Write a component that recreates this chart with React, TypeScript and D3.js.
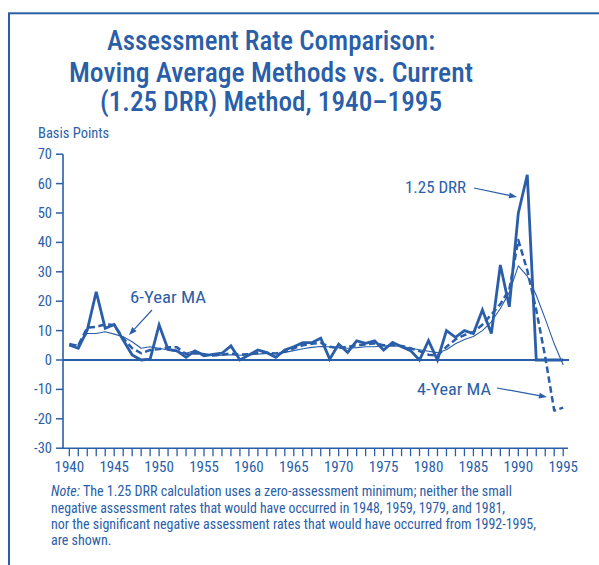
import React from "react";
import * as d3 from "d3";

const years: number[] = d3.range(1940, 1996);

const drr: number[] = [
  5.1, 4, 10.2, 23.2, 10.8, 12.1, 6.8, 1.7, 0, 0.3,
  11.9, 3.6, 3.1, 0.9, 3.1, 1.4, 1.9, 2.3, 4.8, 0,
  1.7, 3.4, 2.5, 0.9, 3.4, 4.5, 5.9, 5.9, 7.4, 0.3,
  5.4, 2.6, 6.5, 5.7, 6.5, 3.4, 6, 4.5, 3.2, 0,
  6.6, 0, 10, 7.7, 10, 9, 17, 9, 32.3, 18.1,
  49.9, 63, 0, 0, 0, 0,
];

const ma4: number[] = [
  5, 5, 11, 11.3, 12.1, 11.9, 7.4, 4, 2.3, 3.4,
  3.7, 4.3, 4.3, 2, 2.3, 2, 1.5, 1.8, 2.2, 1.8,
  2, 2.5, 2.5, 2.2, 2.8, 4, 5, 5.5, 5.8, 4.5,
  4, 4.5, 5, 5.3, 5.7, 5, 5, 4.8, 4, 3,
  1.8, 1.5, 4.5, 7, 8.5, 9.5, 12, 15.5, 19, 24,
  40.8, 30.5, 17, 1, -17.2, -16.2,
];

const ma6: number[] = [
  5.7, 5, 9, 9, 9.6, 8.8, 7.9, 6.2, 4, 4.5,
  4, 3.4, 2.8, 2.3, 3.2, 2, 1.5, 1.6, 1.8, 1.6,
  1.7, 2, 2.2, 2.2, 2.6, 3.2, 3.8, 4.3, 4.6, 4.5,
  4.2, 4, 4.2, 4.5, 4.5, 4.8, 4.8, 4.7, 4, 3.5,
  3, 2.5, 3.5, 5.5, 7, 8, 10, 13, 17.5, 23,
  32, 28.5, 22, 14, 5.5, -1.7,
];

const yTicks: number[] = [70, 60, 50, 40, 30, 20, 10, 0, -10, -20, -30];
const xTickLabels: number[] = [1940, 1945, 1950, 1955, 1960, 1965, 1970, 1975, 1980, 1985, 1990, 1995];

const titleLines: string[] = [
  "Assessment Rate Comparison:",
  "Moving Average Methods vs. Current",
  "(1.25 DRR) Method, 1940\u20131995",
];

const noteLines: string[] = [
  "The 1.25 DRR calculation uses a zero-assessment minimum; neither the small",
  "negative assessment rates that would have occurred in 1948, 1959, 1979, and 1981,",
  "nor the significant negative assessment rates that would have occurred from 1992-1995,",
  "are shown.",
];

const BLUE = "#2a5ea8";
const FONT = "'Liberation Sans Narrow', 'Arial Narrow', 'Roboto Condensed', Roboto, sans-serif";

function Arrow({ x1, y1, x2, y2 }: { x1: number; y1: number; x2: number; y2: number }) {
  const ang = Math.atan2(y2 - y1, x2 - x1);
  const L = 8;
  const W = 3;
  const bx = x2 - L * Math.cos(ang);
  const by = y2 - L * Math.sin(ang);
  const px = -Math.sin(ang) * W;
  const py = Math.cos(ang) * W;
  return (
    <g>
      <line x1={x1} y1={y1} x2={bx} y2={by} stroke={BLUE} strokeWidth={1.2} />
      <path d={`M${x2},${y2}L${bx + px},${by + py}L${bx - px},${by - py}Z`} fill={BLUE} />
    </g>
  );
}

export default function App() {
  const x = d3.scaleLinear().domain([1940, 1995]).range([69.3, 563.2]);
  const y = d3.scaleLinear().domain([-30, 70]).range([448.2, 154.2]);
  const line = (vals: number[]) =>
    d3
      .line<number>()
      .x((_, i) => x(years[i]))
      .y((d) => y(d))(vals) as string;

  const titleWidths = [328, 404, 342];
  const titleBase = [50, 82, 111];
  const noteWidths = [461, 454, 485, 0];
  const noteBase = [496, 512.5, 529, 545];

  return (
    <svg
      width={599}
      height={565}
      style={{ position: "absolute", left: 0, top: 0, background: "#fff" }}
      fontFamily={FONT}
    >
      <rect x={0} y={0} width={599} height={565} fill="#fff" />
      <rect x={9} y={13.3} width={640} height={600} fill="none" stroke={BLUE} strokeWidth={2} />

      {titleLines.map((t, i) => (
        <text
          key={i}
          x={271}
          y={titleBase[i]}
          textAnchor="middle"
          fontSize={27.5}
          fontWeight={500}
          fill={BLUE}
          textLength={titleWidths[i]}
          lengthAdjust="spacingAndGlyphs"
        >
          {t}
        </text>
      ))}

      <text x={38} y={138} fontSize={14.5} fill={BLUE}>
        Basis Points
      </text>

      {/* left axis */}
      <line x1={63} y1={y(70)} x2={63} y2={y(-30)} stroke={BLUE} strokeWidth={1.6} />
      {yTicks.map((t) => (
        <g key={t}>
          <line x1={56} x2={63} y1={y(t)} y2={y(t)} stroke={BLUE} strokeWidth={1.5} />
          <text x={52} y={y(t) + 5} textAnchor="end" fontSize={14.5} fill={BLUE}>
            {t}
          </text>
        </g>
      ))}

      {/* bottom axis */}
      <line x1={62.2} x2={568} y1={y(-30)} y2={y(-30)} stroke={BLUE} strokeWidth={1.6} />
      {years.map((yr) => (
        <line key={yr} x1={x(yr)} x2={x(yr)} y1={y(-30)} y2={y(-30) + 8} stroke={BLUE} strokeWidth={1.3} />
      ))}
      {xTickLabels.map((yr) => (
        <text key={yr} x={x(yr)} y={472} textAnchor="middle" fontSize={15} fill={BLUE}>
          {yr}
        </text>
      ))}

      {/* zero line */}
      <line x1={63} x2={569} y1={y(0)} y2={y(0)} stroke={BLUE} strokeWidth={1.8} />

      {/* series */}
      <path d={line(ma6)} fill="none" stroke={BLUE} strokeWidth={1.1} strokeLinejoin="round" />
      <path d={line(ma4)} fill="none" stroke={BLUE} strokeWidth={2.5} strokeDasharray="6.5,3.5" strokeLinejoin="round" />
      <path d={line(drr)} fill="none" stroke={BLUE} strokeWidth={2.8} strokeLinejoin="miter" />

      {/* annotations */}
      <text x={130} y={303} fontSize={16} fill={BLUE} textLength={76} lengthAdjust="spacingAndGlyphs">
        6-Year MA
      </text>
      <Arrow x1={152} y1={310} x2={129} y2={335} />

      <text x={405} y={193} fontSize={16} fill={BLUE} textLength={61} lengthAdjust="spacingAndGlyphs">
        1.25 DRR
      </text>
      <Arrow x1={474} y1={188} x2={517} y2={197} />

      <text x={417} y={395} fontSize={16} fill={BLUE} textLength={74} lengthAdjust="spacingAndGlyphs">
        4-Year MA
      </text>
      <Arrow x1={497} y1={388} x2={547} y2={397} />

      {/* note */}
      {noteLines.map((t, i) => (
        <text
          key={i}
          x={51}
          y={noteBase[i]}
          fontSize={14}
          fill={BLUE}
          {...(noteWidths[i] ? { textLength: noteWidths[i], lengthAdjust: "spacingAndGlyphs" } : {})}
        >
          {i === 0 ? (
            <>
              <tspan fontStyle="italic">Note:</tspan>
              <tspan> {t}</tspan>
            </>
          ) : (
            t
          )}
        </text>
      ))}
    </svg>
  );
}
